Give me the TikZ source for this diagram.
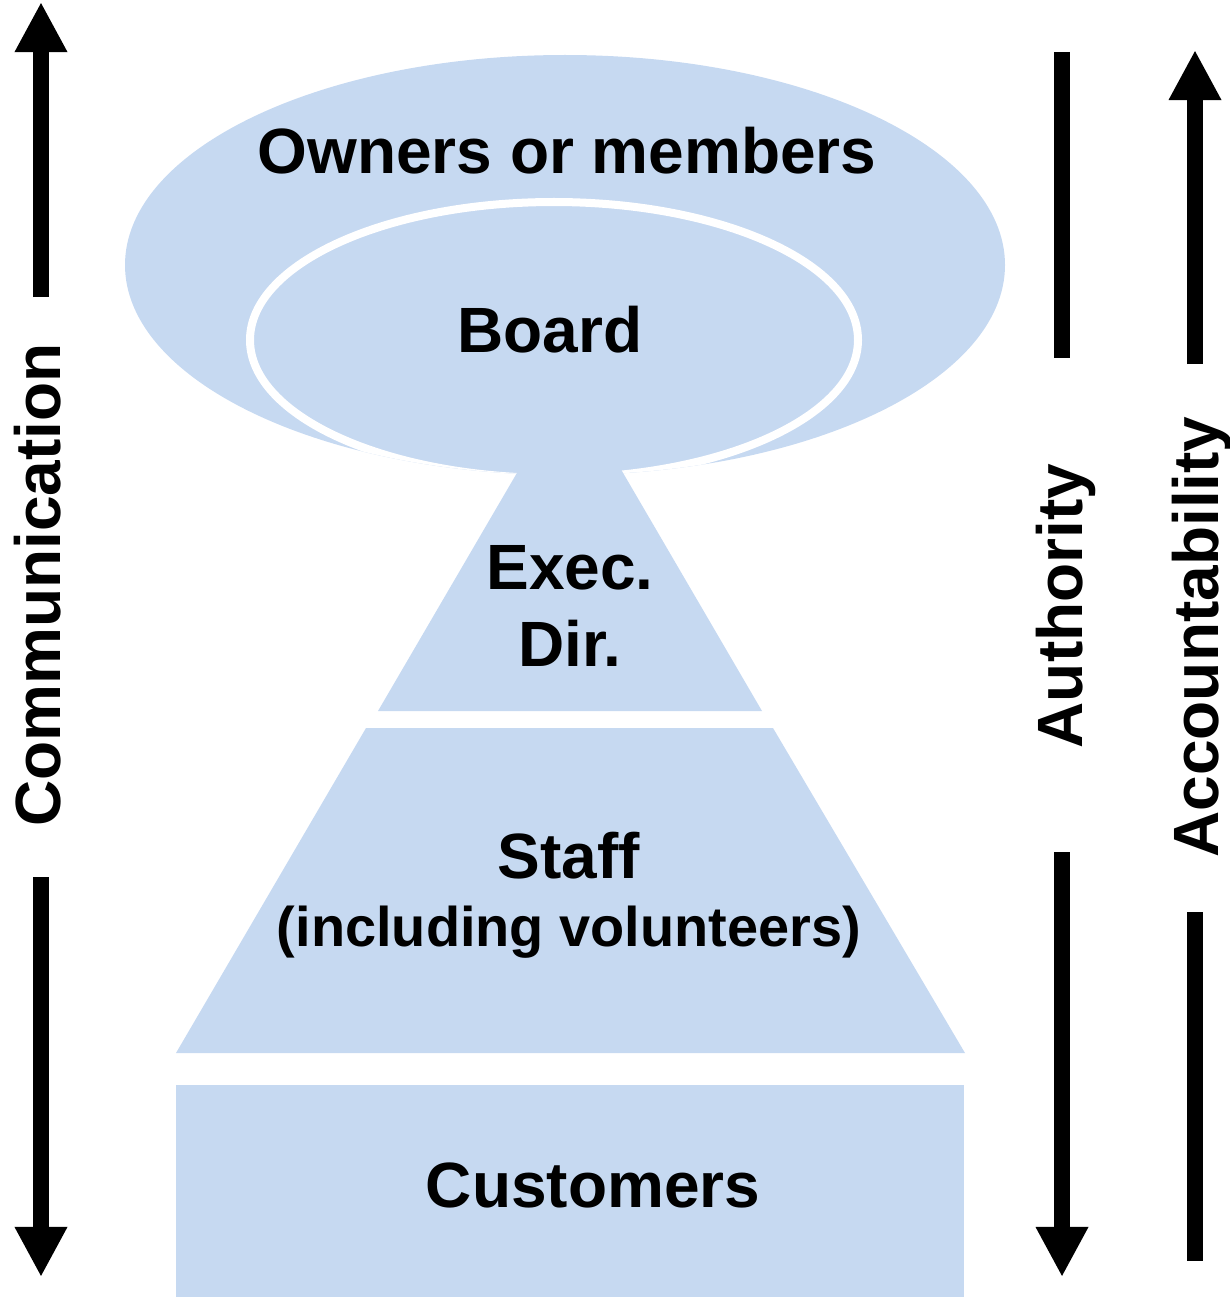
\documentclass[tikz,border=0pt]{standalone}
\usepackage{fontspec}
\setmainfont{Liberation Sans}
\usetikzlibrary{arrows.meta}
\definecolor{paleblue}{RGB}{198,217,241}
\tikzset{
	block/.style={fill=paleblue},
	lbl/.style={font=\bfseries\fontsize{18.2}{21.8}\selectfont, inner sep=0pt, align=center},
	bar/.style={line width=0.16cm},
	arrowbar/.style={bar, -{Triangle[width=0.49cm, length=0.5cm]}}
}

\begin{document}
\begin{tikzpicture}[x=0.01cm, y=-0.01cm]
				\useasboundingbox (0,0) rectangle (1229,1297);
				
				% Owners ellipse and board ring
				\fill[block] (565,265) ellipse [x radius=440, y radius=210];
				\begin{scope}
					\clip (565,265) ellipse [x radius=440, y radius=210];
					\draw[white, line width=0.08cm] (554,340) ellipse [x radius=304, y radius=138];
				\end{scope}
				
				% Pyramid
				\fill[block] (570,382) -- (762,711) -- (378,711) -- cycle;
				\fill[block] (366,728) -- (773,728) -- (965,1053) -- (176,1053) -- cycle;
				\fill[block] (176,1085) rectangle (964,1297);
				
				% Labels
				\node[lbl, anchor=base] (owners) at (567,173) {Owners or members};
				\node[lbl, anchor=base] (board) at (550,352) {Board};
				\node[lbl] (exec) at (570,606) {Exec.\\Dir.};
				\node[lbl] (staff) at (569,895) {Staff\\[-2.5pt]{\fontsize{15.9}{19}\selectfont (including volunteers)}};
				\node[lbl, anchor=base] (customers) at (593,1207) {Customers};
				
				% Side labels
				\node[lbl, rotate=90, anchor=base] (comm) at (60,585) {Communication};
				\node[lbl, rotate=90, anchor=base] (auth) at (1082,606) {Authority};
				\node[lbl, rotate=90, anchor=base] (acct) at (1218,637) {Accountability};
				
				% Arrow ends
				\coordinate (commtop) at (41,2);
				\coordinate (commhi) at (41,297);
				\coordinate (commlo) at (41,877);
				\coordinate (commbot) at (41,1277);
				\coordinate (authtop) at (1062,52);
				\coordinate (authhi) at (1062,358);
				\coordinate (authlo) at (1062,852);
				\coordinate (authbot) at (1062,1277);
				\coordinate (accttop) at (1195,50);
				\coordinate (accthi) at (1195,364);
				\coordinate (acctlo) at (1195,912);
				\coordinate (acctbot) at (1195,1261);
				
				% Left arrow
				\draw[arrowbar] (commhi) -- (commtop);
				\draw[arrowbar] (commlo) -- (commbot);
				% Right arrows
				\draw[bar] (authtop) -- (authhi);
				\draw[arrowbar] (authlo) -- (authbot);
				\draw[arrowbar] (accthi) -- (accttop);
				\draw[bar] (acctlo) -- (acctbot);
\end{tikzpicture}
\end{document}
